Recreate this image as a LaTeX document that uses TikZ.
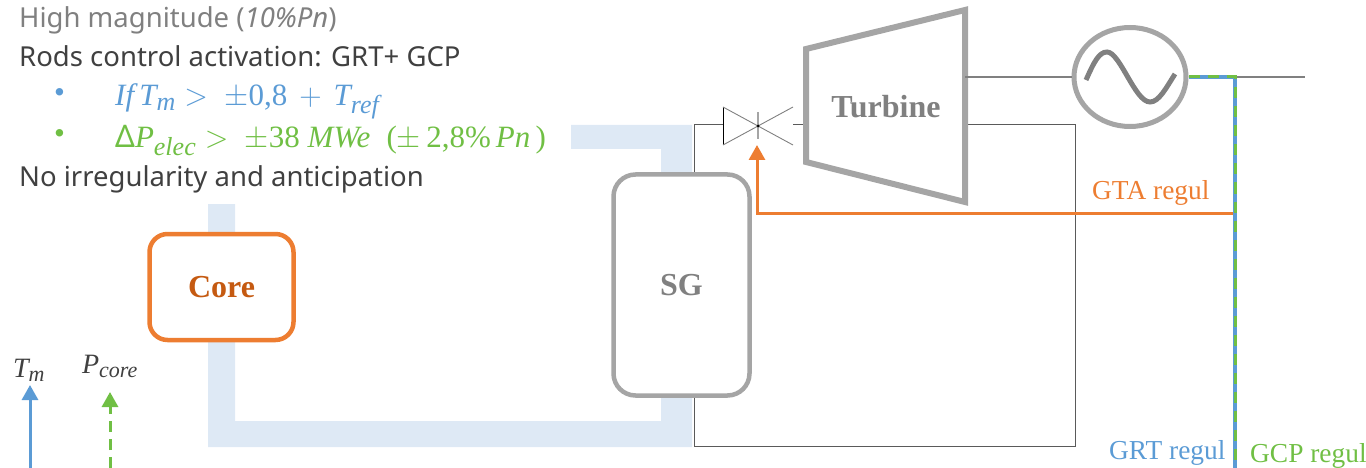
\documentclass[tikz,border=0pt]{standalone}
\usepackage{fix-cm}
\usepackage{amsmath}
\usepackage{fontspec}
\setmainfont{Liberation Serif}
\newfontfamily\labelfont{Noto Sans}
\usetikzlibrary{arrows.meta,positioning,shapes.geometric}
\DeclareMathSizes{31}{31}{26}{20}
\DeclareMathSizes{28}{28}{22}{16}
\definecolor{pipeblue}{HTML}{DEE9F5}
\definecolor{unitgray}{HTML}{A5A5A5}
\definecolor{wiregray}{HTML}{808080}
\definecolor{loopgray}{HTML}{5A5A5A}
\definecolor{regorange}{HTML}{ED7D31}
\definecolor{coreorange}{HTML}{C55A11}
\definecolor{regblue}{HTML}{5B9BD5}
\definecolor{reggreen}{HTML}{70BF44}
\definecolor{textgray}{HTML}{404040}
\newcommand{\mv}[1]{\textnormal{\itshape #1}}
\newcommand{\nm}[1]{\textnormal{#1}}
\tikzset{
  unit/.style={draw=unitgray, line width=4.5pt, rounded corners=22pt, fill=white, inner sep=0pt,
    font=\fontsize{32}{34}\selectfont\bfseries},
  wire/.style={wiregray, line width=1.5pt},
  loopwire/.style={loopgray, line width=1pt},
  regul/.style={font=\fontsize{27.4}{29}\selectfont, anchor=base west, inner sep=0pt},
  headline/.style={font=\labelfont\fontsize{27.5}{30}\selectfont, anchor=base west, inner sep=0pt, textgray},
  rodline/.style={font=\fontsize{31}{33}\selectfont, anchor=base west, inner sep=0pt},
  symb/.style={font=\fontsize{28}{30}\selectfont, anchor=base, inner sep=0pt, textgray},
  tip/.style={-{Triangle[length=15pt,width=16pt]}},
}
\begin{document}
\begin{tikzpicture}[x=1pt,y=-1pt]
  \useasboundingbox (0,0) rectangle (1366,468);

  % pipes
  \fill[pipeblue] (208,204)--(235,204)--(235,421)--(661,421)--(661,390)--(692,390)--(692,447)--(208,447)--cycle;
  \fill[pipeblue] (571,125)--(692,125)--(692,180)--(661,180)--(661,149)--(571,149)--cycle;

  \coordinate (loopin) at (694,175);
  \coordinate (loopout) at (694,398);
  \coordinate (valvein) at (723,125);
  \coordinate (valveout) at (793,125);
  \coordinate (valvemid) at (758,126);
  \coordinate (turbin) at (806,125);
  \coordinate (turbout) at (965,125);
  \coordinate (shaft) at (965,77);
  \coordinate (grid) at (1305,77);
  \coordinate (tap) at (1235,77);
  \coordinate (regend) at (1235,468);
  \coordinate (gtatap) at (1235,213);
  \coordinate (valvestem) at (757,145);
  \coordinate (tmstart) at (30,468);
  \coordinate (tmend) at (30,385);
  \coordinate (pcstart) at (110,468);
  \coordinate (pcend) at (110,392);

  % steam loop
  \draw[loopwire] (loopin)--(694,125)--(valvein);
  \draw[loopwire] (valveout)--(turbin);
  \draw[loopwire] (turbout)--(1075,125)--(1075,446)--(694,446)--(loopout);

  % valve
  \draw[black, line width=.8pt] (723,107)--(723,145);
  \draw[wire, line width=.9pt] (723,107)--(793,145);
  \draw[wire, line width=.9pt] (723,145)--(793,107);
  \draw[unitgray, line width=1.5pt] (758,112)--(758,139);
  \fill[black] (valvemid) circle (1.5pt);

  % units
  \node[unit, draw=regorange, text=coreorange, rounded corners=18pt, minimum width=144pt, minimum height=106pt] (core) at (221.5,287) {Core};
  \node[unit, text=wiregray, minimum width=136pt, minimum height=221pt] (sg) at (681.5,285) {SG};
  \draw[unitgray, line width=6pt, fill=white, line join=miter] (806,49)--(965,10)--(965,202)--(806,162)--cycle;
  \node[text=wiregray, font=\fontsize{32}{34}\selectfont\bfseries, inner sep=0pt] (turbine) at (886,107) {Turbine};
  \node[ellipse, draw=unitgray, line width=5pt, fill=white, minimum width=112pt, minimum height=99pt, inner sep=0pt] (gen) at (1130,77) {};
  \draw[wiregray, line width=5pt] (1086,80) .. controls (1094,62) and (1099,52) .. (1107,52)
     .. controls (1120,52) and (1135,102) .. (1150,102) .. controls (1159,102) and (1166,88) .. (1175,74);

  \draw[wire] (shaft)--(gen.west);
  \draw[wire] (gen.east)--(grid);

  % regulation lines
  \draw[regorange, line width=3pt, tip] (gtatap)--(757,213)--(valvestem);
  \draw[regblue, line width=3.5pt, xshift=.5pt] (gen.east)--(tap)--(regend);
  \draw[reggreen, line width=3pt, dash pattern=on 11pt off 8pt] (gen.east)--(tap)--(regend);
  \draw[regblue, line width=3pt, tip] (tmstart)--(tmend);
  \draw[reggreen, line width=3pt, dash pattern=on 11pt off 7pt, tip] (pcstart)--(pcend);

  \node[regul, text=regorange] (gta) at (1092,200) {GTA regul};
  \node[regul, text=regblue] (grt) at (1109,459) {GRT regul};
  \node[regul, text=reggreen] (gcp) at (1250,462) {GCP regul};
  \node[symb] (tm) at (29,377) {$\mv{T}_{\mv{m}}$};
  \node[symb] (pc) at (110,373) {$\mv{P}_{\mv{core}}$};

  % text block
  \node[headline, text=wiregray] (mag) at (19,28) {High magnitude (\textit{10\%Pn})};
  \node[headline] (rods) at (19,67) {Rods control activation: GRT+ GCP};
  \node[rodline, text=regblue] (dota) at (54,103) {\textbullet};
  \node[rodline, text=regblue] (iftm) at (115,106) {$\mv{If}\,\mv{T}_{\mv{m}} >\ \pm\nm{0,8}\,+\,\mv{T}_{\mv{ref}}$};
  \node[rodline, text=reggreen] (dotb) at (54,144) {\textbullet};
  \node[rodline, text=reggreen] (dp) at (115,148) {$\nm{\labelfont Δ}\mv{P}_{\mv{elec}} >\ {\pm}\nm{38}\ \mv{MWe}\ \;\nm{(}{\pm}\,\nm{2,8\%}\,\mv{Pn}\,\nm{)}$};
  \node[headline] (noirr) at (19,186) {No irregularity and anticipation};
\end{tikzpicture}
\end{document}
